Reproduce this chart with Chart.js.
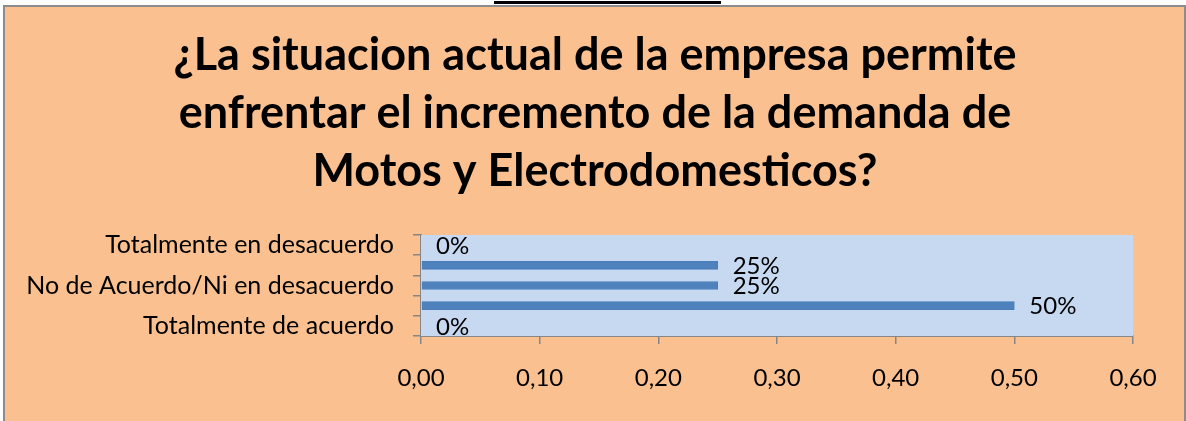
<!DOCTYPE html>
<html>
<head>
<meta charset="utf-8">
<script src="https://cdn.jsdelivr.net/npm/chart.js@4"></script>
<style>
  html, body { margin: 0; padding: 0; background: #ffffff; }
  body { width: 1186px; height: 421px; position: relative; overflow: hidden; }
  #topbar { position: absolute; left: 494px; top: 1px; width: 227px; height: 3px; background: #000; }
  #frame {
    position: absolute; left: 3px; top: 5px; width: 1179px; height: 430px;
    border: 2px solid #8c8c8c; background: #fac090;
  }
  #wrap { position: absolute; left: 0; top: 0; width: 1186px; height: 421px; }
</style>
</head>
<body>
<div id="topbar"></div>
<div id="frame"></div>
<div id="wrap"><canvas id="chart" width="1186" height="421"></canvas></div>
<script>
// Chart data
const titleLines = [
    '¿La situacion actual de la empresa permite',
    'enfrentar el incremento de la demanda de',
    'Motos y Electrodomesticos?'
];
const categories = [
    'Totalmente en desacuerdo',
    'En desacuerdo',
    'No de Acuerdo/Ni en desacuerdo',
    'De acuerdo',
    'Totalmente de acuerdo'
];
const values = [0, 0.25, 0.25, 0.50, 0];
const xTicksMin = 0;
const xTicksMax = 0.6;
const xTicksStep = 0.1;

Chart.defaults.font.family = "'Lato', sans-serif";
Chart.defaults.color = '#000000';

const axisGray = '#868686';

// light blue plot area, like the spreadsheet chart
const plotBackground = {
    id: 'plotBackground',
    beforeDatasetsDraw(chart) {
        const { ctx, chartArea } = chart;
        ctx.save();
        ctx.fillStyle = '#c6d9f1';
        ctx.fillRect(chartArea.left, chartArea.top,
            chartArea.right - chartArea.left, chartArea.bottom - chartArea.top);
        ctx.restore();
    }
};

// the long category labels run past the left padding, so widen the label clip box
const labelRoom = {
    id: 'labelRoom',
    afterLayout(chart) {
        chart.scales.y.left = 0;
    }
};

// percent labels to the right of each bar
const valueLabels = {
    id: 'valueLabels',
    afterDatasetsDraw(chart) {
        const { ctx } = chart;
        const meta = chart.getDatasetMeta(0);
        ctx.save();
        ctx.font = "24px 'Lato', sans-serif";
        ctx.fillStyle = '#000000';
        ctx.textAlign = 'left';
        ctx.textBaseline = 'middle';
        meta.data.forEach((bar, i) => {
            const v = chart.data.datasets[0].data[i];
            ctx.fillText(Math.round(v * 100) + '%', bar.x + 15, bar.y + 1);
        });
        ctx.restore();
    }
};

const ctx = document.getElementById('chart').getContext('2d');

new Chart(ctx, {
    type: 'bar',
    data: {
        labels: categories,
        datasets: [{
            data: values,
            backgroundColor: '#4f81bd',
            borderColor: '#4a7ebb',
            borderWidth: 1,
            barThickness: 8
        }]
    },
    options: {
        indexAxis: 'y',
        responsive: false,
        animation: false,
        layout: { padding: { left: 57, right: 53, top: 0, bottom: 0 } },
        plugins: {
            legend: { display: false },
            tooltip: { enabled: false },
            title: {
                display: true,
                text: titleLines,
                color: '#000000',
                font: { size: 45, weight: 'bold', lineHeight: 58 / 45 },
                padding: { top: 26, bottom: 35 }
            }
        },
        scales: {
            x: {
                min: xTicksMin,
                max: xTicksMax,
                ticks: {
                    stepSize: xTicksStep,
                    font: { size: 24 },
                    color: '#000000',
                    padding: 20,
                    maxRotation: 0,
                    callback: v => v.toFixed(2).replace('.', ',')
                },
                grid: { drawOnChartArea: false, color: axisGray, tickLength: 8, lineWidth: 1.5 },
                border: { color: axisGray, width: 2 },
                afterFit: scale => { scale.height = 85; }
            },
            y: {
                ticks: {
                    autoSkip: false,
                    font: { size: 25 },
                    color: '#000000',
                    padding: 19,
                    callback: function (v, i) { return i % 2 === 0 ? this.getLabelForValue(v) : ''; }
                },
                grid: { drawOnChartArea: false, color: axisGray, tickLength: 8, lineWidth: 1.5 },
                border: { color: axisGray, width: 2 },
                afterFit: scale => { scale.width = 364; }
            }
        }
    },
    plugins: [plotBackground, labelRoom, valueLabels]
});
</script>
</body>
</html>
